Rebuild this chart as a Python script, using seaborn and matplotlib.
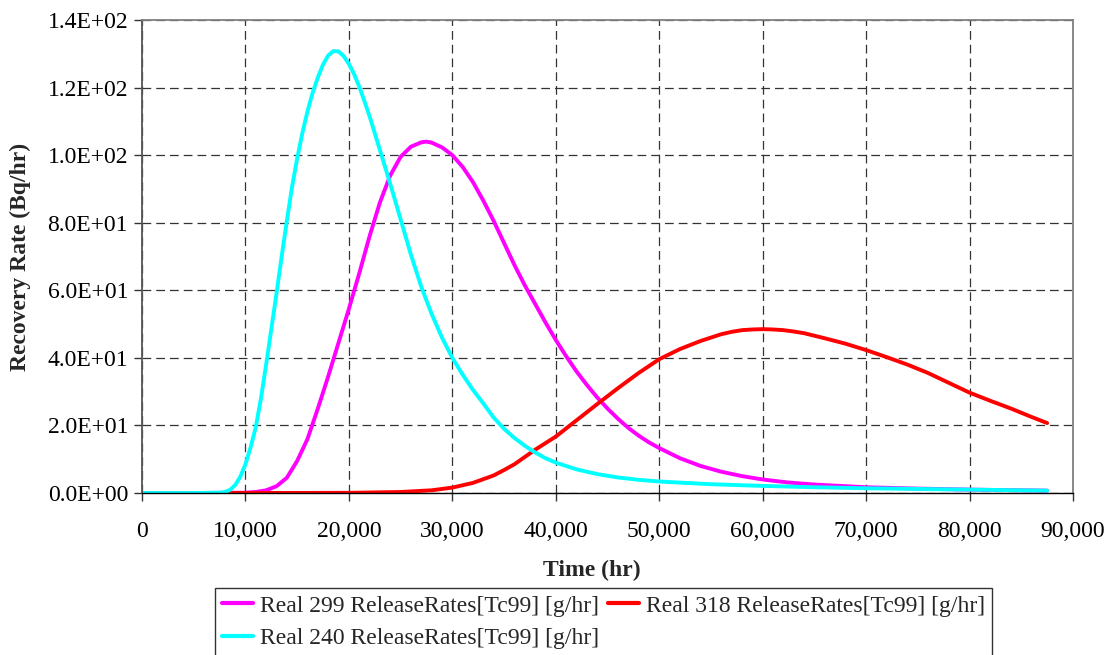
import numpy as np
import pandas as pd
import matplotlib
matplotlib.use("Agg")
import matplotlib.pyplot as plt
import seaborn as sns
from matplotlib.ticker import FuncFormatter, MultipleLocator

# ---- data ----
t299 = [0, 5000, 10000, 11000, 12000, 13000, 14000, 15000, 16000, 17000, 18000,
        19000, 20000, 21000, 22000, 23000, 24000, 25000, 26000, 27000, 27500,
        28000, 29000, 30000, 31000, 32000, 33000, 34000, 35000, 36000, 37000, 38000, 39000,
        40000, 41000, 42000, 43000, 44000, 45000, 46000, 47000, 48000, 49000, 50000, 52000,
        54000, 56000, 58000, 60000, 62500, 65000, 70000, 75000, 80000, 87500]
v299 = [0, 0, 0.1, 0.3, 0.8, 2, 4.5, 9.5, 16, 25, 34.5,
        44.5, 54.5, 65, 76, 86, 94, 99.5, 102.5, 103.8, 104,
        103.7, 102.3, 100, 96.5, 92, 86.5, 80.5, 74, 67.5, 61.5, 56, 50.5,
        45.3, 40.5, 36, 32, 28.3, 25, 22, 19.3, 17, 15, 13.3, 10.3,
        8, 6.3, 5, 4, 3.1, 2.5, 1.7, 1.3, 1.0, 0.7]

t318 = [0, 10000, 20000, 25000, 28000, 30000, 32000, 34000, 35000, 36000, 38000, 40000,
        42000, 44000, 46000, 48000, 50000, 52000, 54000, 55000, 56000, 57000, 58000, 59000,
        60000, 61000, 62000, 63000, 64000, 66000, 68000, 70000, 72000, 74000, 76000, 78000,
        80000, 82000, 84000, 86000, 87500]
v318 = [0, 0, 0.05, 0.3, 0.8, 1.6, 3, 5.2, 6.8, 8.5, 12.8, 16.7,
        21.5, 26.3, 31, 35.5, 39.6, 42.6, 45, 46, 47, 47.7, 48.2, 48.4,
        48.5, 48.4, 48.2, 47.8, 47.3, 45.8, 44.2, 42.3, 40.2, 38, 35.5, 32.6,
        29.7, 27.3, 25, 22.5, 20.7]

t240 = [0, 5000, 7500, 8000, 8500, 9000, 9500, 10000, 10500, 11000, 11500, 12000, 12500,
        13000, 13500, 14000, 14500, 15000, 15500, 16000, 16500, 17000, 17500, 18000, 18500,
        19000, 19500, 20000, 20500, 21000, 21500, 22000, 22500, 23000, 24000, 25000, 26000,
        27000, 28000, 29000, 30000, 31000, 32000, 33000, 34000, 35000, 36000, 37000, 38000,
        39000, 40000, 42000, 44000, 46000, 48000, 50000, 55000, 60000, 65000, 70000, 75000,
        80000, 87500]
v240 = [0, 0, 0.1, 0.3, 0.9, 2.3, 4.8, 8.5, 13.5, 19.5, 28, 38, 48.5,
        59, 70, 80.5, 90.5, 99, 106.5, 113, 118.5, 123, 126.8, 129.5, 130.8,
        130.7, 129.3, 127, 124, 120.3, 116, 111.5, 106.5, 101.5, 91.5, 81, 70.5,
        61, 53, 46, 40, 35, 30.5, 26.5, 22.3, 19, 16.3, 14, 12,
        10.3, 9, 7, 5.6, 4.6, 3.9, 3.4, 2.6, 2.1, 1.7, 1.4, 1.2,
        1.0, 0.7]

names = ["Real 299 ReleaseRates[Tc99] [g/hr]",
         "Real 318 ReleaseRates[Tc99] [g/hr]",
         "Real 240 ReleaseRates[Tc99] [g/hr]"]
colors = ["#FF00FF", "#FF0000", "#00FFFF"]

df = pd.concat([
    pd.DataFrame({"Time": t299, "Rate": v299, "Series": names[0]}),
    pd.DataFrame({"Time": t318, "Rate": v318, "Series": names[1]}),
    pd.DataFrame({"Time": t240, "Rate": v240, "Series": names[2]}),
], ignore_index=True)

sns.set_style("white")
plt.rcParams["font.family"] = ["Liberation Serif", "DejaVu Serif"]
plt.rcParams["lines.solid_joinstyle"] = "round"
plt.rcParams["lines.solid_capstyle"] = "round"

fig = plt.figure(figsize=(11.14, 6.55), dpi=100)
ax = fig.add_axes([142 / 1114, 1 - 493 / 655, (1073 - 142) / 1114, (493 - 20) / 655])

sns.lineplot(data=df, x="Time", y="Rate", hue="Series", hue_order=names,
             palette=dict(zip(names, colors)), linewidth=2.8, ax=ax, legend=True,
             sort=False, estimator=None)

ax.set_xlim(0, 90000)
ax.set_ylim(0, 140)
ax.xaxis.set_major_locator(MultipleLocator(10000))
ax.yaxis.set_major_locator(MultipleLocator(20))
ax.xaxis.set_major_formatter(FuncFormatter(lambda v, p: f"{v:,.0f}"))
ax.yaxis.set_major_formatter(FuncFormatter(lambda v, p: f"{v:.1E}"))

ax.grid(True, color="#333333", linestyle=(0, (7, 4)), linewidth=0.9)
ax.set_axisbelow(True)
for s in ["top", "right"]:
    ax.spines[s].set_color("#808080")
    ax.spines[s].set_linewidth(1.3)
ax.spines["left"].set_color("#555555")
ax.spines["left"].set_linewidth(1.3)
ax.spines["bottom"].set_color("#000000")
ax.spines["bottom"].set_linewidth(1.0)

ax.tick_params(axis="both", which="major", direction="out", length=6, width=1,
               color="#333333", labelsize=17, labelcolor="black", pad=4,
               bottom=True, left=True)
ax.tick_params(axis="x", pad=14)

ax.set_xlabel("Time (hr)", fontsize=17, fontweight="bold")
ax.set_ylabel("Recovery Rate (Bq/hr)", fontsize=17, fontweight="bold")
ax.xaxis.set_label_coords(0.483, -0.142)
ax.yaxis.set_label_coords(-0.119, 0.5)

h, l = ax.get_legend_handles_labels()
ax.get_legend().remove()
for hh in h:
    hh.set_linewidth(3)
order = [0, 2, 1]
leg = fig.legend([h[i] for i in order], [l[i] for i in order], loc="upper left",
                 bbox_to_anchor=(215 / 1114, 1 - 588 / 655),
                 ncol=2, fontsize=17, frameon=True, fancybox=False, edgecolor="black",
                 handlelength=1.3, handletextpad=0.3, columnspacing=0.4,
                 labelspacing=0.45, borderpad=0.3, borderaxespad=0)
leg.get_frame().set_linewidth(1.0)

fig.savefig("out.png", dpi=100)
